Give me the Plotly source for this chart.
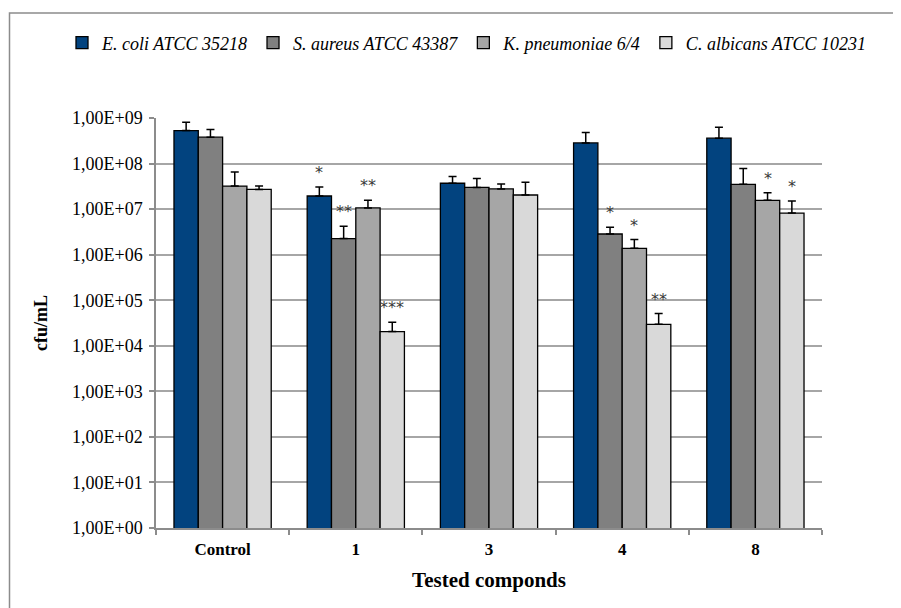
import numpy as np
import plotly.graph_objects as go

categories = ["Control", "1", "3", "4", "8"]
series_names = ["E. coli ATCC 35218", "S. aureus ATCC 43387",
                "K. pneumoniae 6/4", "C. albicans ATCC 10231"]
colors = ["#02437F", "#808080", "#A6A6A6", "#D9D9D9"]

ecoli = [5.3e8, 1.94e7, 3.7e7, 2.83e8, 3.6e8]
saureus = [3.8e8, 2.25e6, 3.0e7, 2.84e6, 3.5e7]
kpneu = [3.2e7, 1.06e7, 2.77e7, 1.38e6, 1.56e7]
calb = [2.7e7, 2.05e4, 2.04e7, 2.96e4, 8.2e6]

ecoli_err_top = [8.1e8, 3.06e7, 5.2e7, 4.8e8, 6.25e8]
saureus_err_top = [5.6e8, 4.2e6, 4.7e7, 4.0e6, 7.8e7]
kpneu_err_top = [6.5e7, 1.56e7, 3.55e7, 2.14e6, 2.3e7]
calb_err_top = [3.2e7, 3.3e4, 3.9e7, 5.1e4, 1.5e7]

ecoli_sig = ["", "*", "", "", ""]
saureus_sig = ["", "**", "", "*", ""]
kpneu_sig = ["", "**", "", "*", "*"]
calb_sig = ["", "***", "", "**", "*"]

tick_vals = [10 ** k for k in range(10)]
tick_text = ["1,00E+00", "1,00E+01", "1,00E+02", "1,00E+03", "1,00E+04",
             "1,00E+05", "1,00E+06", "1,00E+07", "1,00E+08", "1,00E+09"]

values = [ecoli, saureus, kpneu, calb]
err_tops = [ecoli_err_top, saureus_err_top, kpneu_err_top, calb_err_top]
sigs = [ecoli_sig, saureus_sig, kpneu_sig, calb_sig]

FONT = "Liberation Serif"
W, H = 901, 608
ML, MT = 148, 110
plot_w, plot_h = 666, 410
MR = W - ML - plot_w
MB = H - MT - plot_h
BARGAP = 0.27
cat_w = plot_w / len(categories)
bar_w = cat_w * (1 - BARGAP) / len(series_names)

fig = go.Figure()
for i, name in enumerate(series_names):
    plus = [t - v for t, v in zip(err_tops[i], values[i])]
    fig.add_trace(go.Bar(
        x=categories, y=values[i], name=name,
        marker=dict(color=colors[i], line=dict(color="black", width=1.3)),
        error_y=dict(type="data", symmetric=False, array=plus,
                     arrayminus=[0] * len(plus), color="black",
                     thickness=1.5, width=4),
    ))

annotations = []
for i in range(len(series_names)):
    offset = (i - (len(series_names) - 1) / 2) * bar_w
    for j in range(len(categories)):
        if sigs[i][j]:
            annotations.append(dict(
                x=j, y=np.log10(err_tops[i][j]), xref="x", yref="y",
                text=sigs[i][j], showarrow=False, xshift=offset,
                yanchor="bottom", yshift=3,
                font=dict(family="DejaVu Sans", size=16, color="#3A3A3A")))

fig.update_layout(
    width=W, height=H,
    margin=dict(l=ML, r=MR, t=MT, b=MB, autoexpand=False),
    paper_bgcolor="white", plot_bgcolor="white",
    barmode="group", bargap=BARGAP, bargroupgap=0,
    font=dict(family=FONT, size=16, color="black"),
    legend=dict(orientation="h", xref="paper", yref="paper",
                x=(54 - ML) / plot_w, xanchor="left",
                y=(H - MB - 35) / plot_h, yanchor="middle",
                font=dict(family=FONT, size=18, style="italic"),
                bgcolor="rgba(0,0,0,0)", tracegroupgap=0),
    annotations=annotations,
    shapes=[dict(type="rect", xref="paper", yref="paper",
                 x0=(1.5 - ML) / plot_w, x1=(W + 10 - ML) / plot_w,
                 y0=-0.3, y1=(H - MB - 5) / plot_h,
                 line=dict(color="#8C8C8C", width=1.5), layer="below")],
    xaxis=dict(type="category", range=[-0.5, len(categories) - 0.5],
               automargin=False,
               showline=True, linecolor="#8C8C8C", linewidth=1.5,
               ticks="outside", tickson="boundaries", ticklen=5,
               tickcolor="#8C8C8C", tickwidth=1.5,
               ticklabelstandoff=5,
               tickfont=dict(family=FONT, size=17, weight="bold"),
               title=dict(text="Tested componds", standoff=14,
                          font=dict(family=FONT, size=21, weight="bold"))),
    yaxis=dict(type="log", range=[0, 9], tickvals=tick_vals, ticktext=tick_text,
               automargin=False,
               showline=True, linecolor="#8C8C8C", linewidth=1.5,
               showgrid=True, gridcolor="#A6A6A6", gridwidth=1.5,
               ticks="outside", ticklen=5, tickcolor="#8C8C8C", tickwidth=1.5,
               ticklabelstandoff=3,
               tickfont=dict(family=FONT, size=18),
               title=dict(text="cfu/mL", standoff=20,
                          font=dict(family=FONT, size=18, weight="bold"))),
)

fig.write_html("out.html")
